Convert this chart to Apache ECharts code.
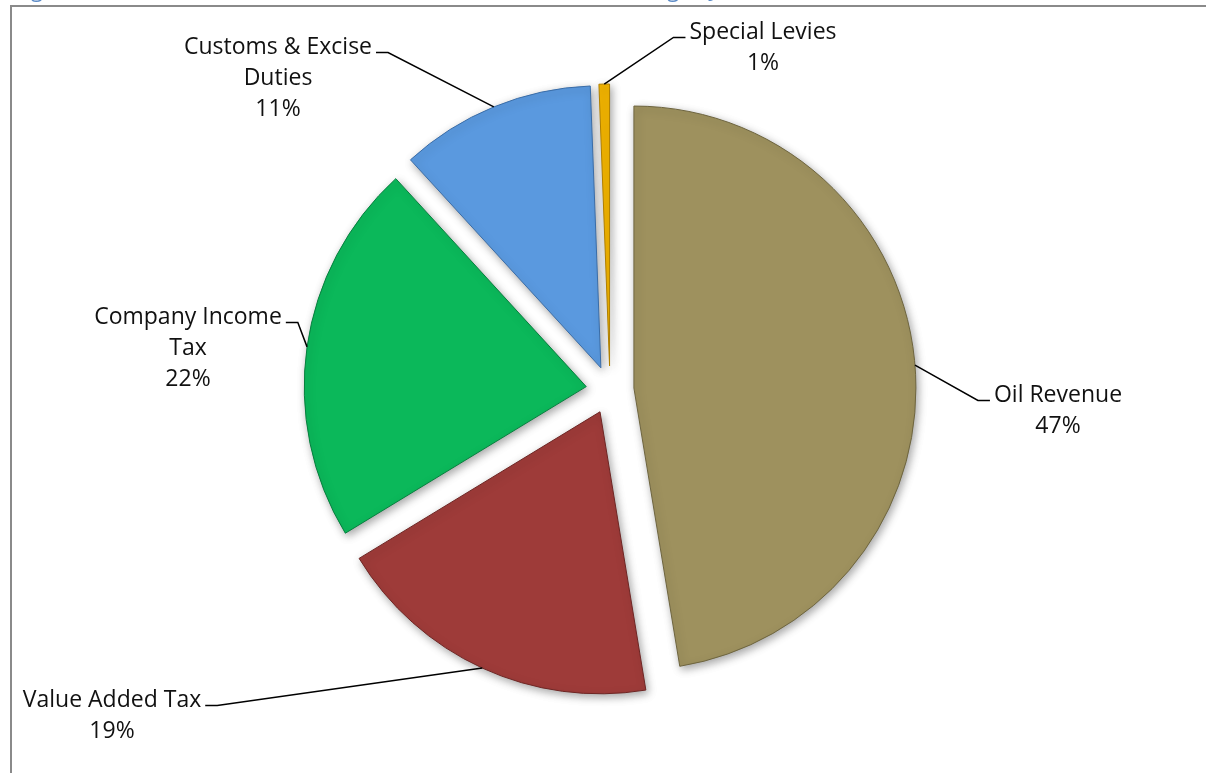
<!DOCTYPE html>
<html><head><meta charset="utf-8">
<script src="https://cdn.jsdelivr.net/npm/echarts@6/dist/echarts.min.js"></script>
<style>html,body{margin:0;padding:0;background:#fff;overflow:hidden}#chart{width:1206px;height:773px}</style>
</head><body><div id="chart"></div>
<script>
// ---- data ----
const categories = ['Oil Revenue', 'Value Added Tax', 'Company Income Tax', 'Customs & Excise Duties', 'Special Levies'];
const labelNames = ['Oil Revenue', 'Value Added Tax', 'Company Income\nTax', 'Customs & Excise\nDuties', 'Special Levies'];
const shares = [47.4, 18.9, 21.9, 11.2, 0.6];
const sliceColors = ['#9E915E', '#9E3B39', '#0BB85A', '#5A99DF', '#F2B400'];
const sliceEdges = ['#6E653F', '#6E2624', '#06803E', '#3A6DA8', '#B07F00'];
const titleText = 'Figure 6: Contribution to Federation Account Revenue (Percentage) (Jan - Mar 2015)';

// ---- screen layout (not data) ----
const PIE_CENTER = [610, 390];
const PIE_R = 282;
const EXPLODE = 24;
const LINE_H = 31;
const labelPlaces = [
  { cx: 1058, top: 380, side: 'right' },
  { cx: 112,  top: 685, side: 'left' },
  { cx: 188,  top: 302, side: 'left' },
  { cx: 278,  top: 32,  side: 'left' },
  { cx: 763,  top: 17,  side: 'right' }
];

const chart = echarts.init(document.getElementById('chart'), null, { renderer: 'canvas' });

const sliceData = categories.map((c, i) => ({
  name: c, value: shares[i], selected: true,
  itemStyle: { color: sliceColors[i], borderColor: sliceEdges[i] }
}));
const labelData = categories.map((c, i) => ({ name: c, value: shares[i] }));

chart.setOption({
  animation: false,
  backgroundColor: '#ffffff',
  graphic: [
    { type: 'rect', silent: true, z: -1,
      shape: { x: 11, y: 6, width: 1400, height: 1000 },
      style: { fill: 'none', stroke: '#8a8a8a', lineWidth: 2 } },
    { type: 'text', silent: true, x: 14, y: -9,
      style: { text: titleText, fill: '#5B8AC6', font: '22px "Open Sans"', verticalAlign: 'middle', align: 'left' } }
  ],
  series: [{
    type: 'pie',
    center: PIE_CENTER,
    radius: [0, PIE_R],
    startAngle: 90,
    clockwise: true,
    selectedMode: 'multiple',
    selectedOffset: EXPLODE,
    silent: true,
    data: sliceData,
    itemStyle: {
      borderWidth: 1,
      shadowBlur: 8,
      shadowColor: 'rgba(0,0,0,0.35)',
      shadowOffsetX: 2,
      shadowOffsetY: 3
    },
    label: { show: false },
    labelLine: { show: false },
    emphasis: { disabled: true }
  }, {
    type: 'pie',
    center: PIE_CENTER,
    radius: [0, PIE_R],
    startAngle: 90,
    clockwise: true,
    silent: true,
    z: 5,
    avoidLabelOverlap: false,
    data: labelData,
    itemStyle: { color: 'rgba(0,0,0,0)', borderWidth: 0 },
    label: {
      show: true,
      position: 'outside',
      color: '#111',
      fontFamily: 'Open Sans',
      fontSize: 23,
      lineHeight: LINE_H,
      align: 'center',
      formatter: p => labelNames[p.dataIndex] + '\n' + Math.round(p.percent) + '%'
    },
    labelLine: { show: true, lineStyle: { color: '#000', width: 1.5 } },
    emphasis: { disabled: true },
    labelLayout: function (params) {
      const L = labelPlaces[params.dataIndex];
      const w = params.labelRect.width;
      const ay = L.top + LINE_H / 2 + 5;
      const ax = L.side === 'left' ? L.cx + w / 2 + 4 : L.cx - w / 2 - 4;
      const bx = L.side === 'left' ? ax + 12 : ax - 12;
      let p0 = [ax, ay];
      if (params.labelLinePoints) {
        const q = params.labelLinePoints[0];
        const vx = q[0] - PIE_CENTER[0], vy = q[1] - PIE_CENTER[1];
        const len = Math.sqrt(vx * vx + vy * vy) || 1;
        p0 = [q[0] + vx / len * EXPLODE, q[1] + vy / len * EXPLODE];
      }
      return {
        x: L.cx, y: L.top, align: 'center', verticalAlign: 'top',
        labelLinePoints: [p0, [bx, ay], [ax, ay]]
      };
    }
  }]
});
</script></body></html>
